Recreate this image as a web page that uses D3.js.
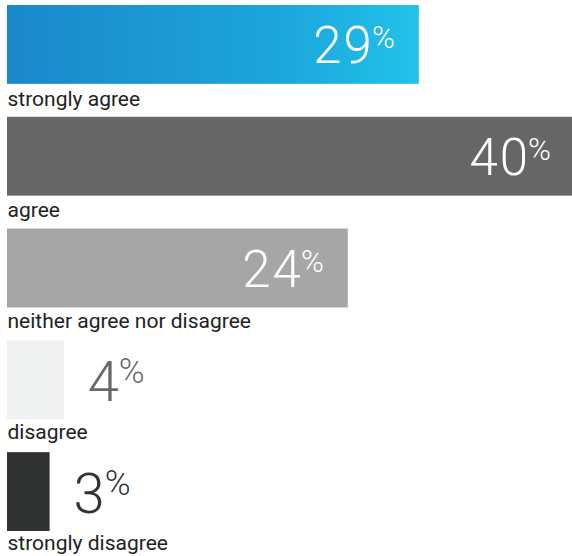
<!DOCTYPE html>
<html><head><meta charset="utf-8">
<script src="https://cdn.jsdelivr.net/npm/d3@7"></script>
<style>
html,body{margin:0;padding:0;background:#fff;}
svg{display:block;font-family:Roboto, sans-serif;}
</style></head>
<body>
<script>
const categories = ["strongly agree","agree","neither agree nor disagree","disagree","strongly disagree"];
const values = [29, 40, 24, 4, 3];
const barColors = ["url(#gradBlue)","#666666","#a6a6a6","#f0f1f1","#303131"];
const valueLabelColors = ["#ffffff","#ffffff","#ffffff","#686868","#333333"];

const W = 572, H = 556;
const svg = d3.select("body").append("svg").attr("width", W).attr("height", H);

const defs = svg.append("defs");
const g = defs.append("linearGradient").attr("id","gradBlue").attr("x1","0%").attr("x2","100%").attr("y1","0%").attr("y2","0%");
g.append("stop").attr("offset","0%").attr("stop-color","#1b88c9");
g.append("stop").attr("offset","65%").attr("stop-color","#1ca5db");
g.append("stop").attr("offset","100%").attr("stop-color","#22c2ea");

const x = d3.scaleLinear().domain([0, 40]).range([7, 575]);
const y = d3.scaleBand().domain(categories).range([5, 531]).paddingInner(33/112).paddingOuter(0);
const ly = d3.scalePoint().domain(categories).range([106, 550]);

const data = categories.map((c,i)=>({c, v: values[i], i}));

const rows = svg.selectAll("g.row").data(data).enter().append("g").attr("class","row");

rows.append("rect")
  .attr("x", x(0))
  .attr("y", d => y(d.c))
  .attr("width", d => Math.min(x(d.v), W) - x(0))
  .attr("height", y.bandwidth())
  .attr("fill", d => barColors[d.i]);

rows.append("text")
  .attr("x", x(0) + 0.5)
  .attr("y", d => ly(d.c))
  .attr("font-size", 21)
  .attr("fill", "#222")
  .text(d => d.c);

rows.each(function(d){
  const inside = d.v > 10;
  const t = d3.select(this).append("text")
    .attr("y", y(d.c) + (inside ? 58 : 61))
    .attr("fill", valueLabelColors[d.i])
    .attr("font-weight", 300)
    .attr("font-size", inside ? 51 : 56)
    .attr("text-anchor", inside ? "end" : "start")
    .attr("x", inside ? x(d.v) - 24 : x(d.v) + 24);
  t.append("tspan").attr("letter-spacing", 2).text(d.v);
  t.append("tspan").attr("font-size", inside ? 31 : 35).attr("dx", -2).attr("dy", inside ? -15 : -18).text("%");
});
</script>
</body></html>
